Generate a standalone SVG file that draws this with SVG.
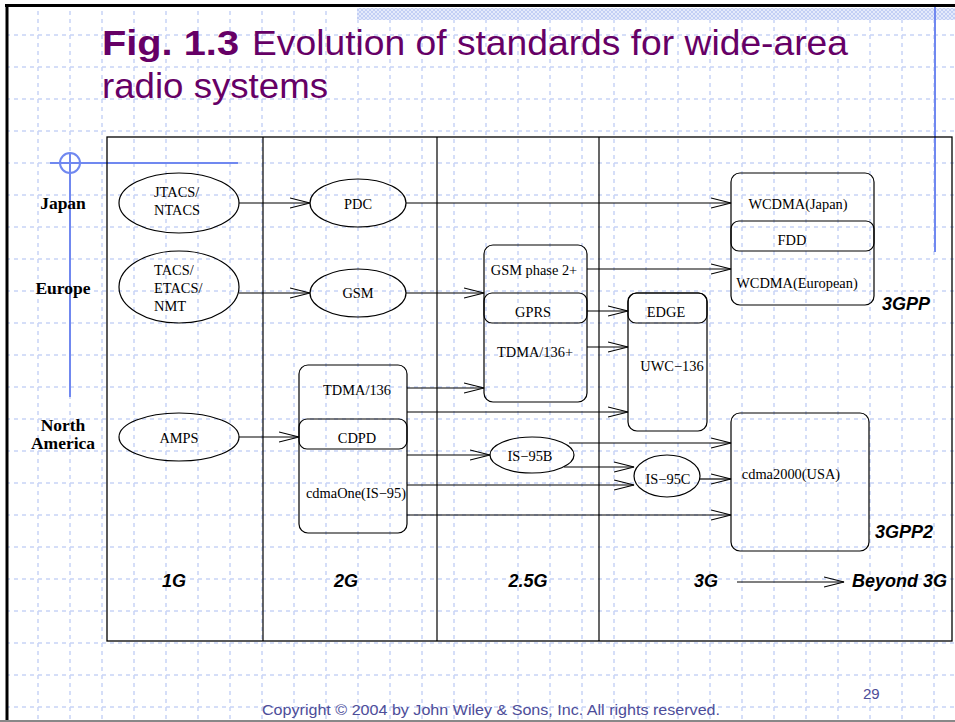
<svg xmlns="http://www.w3.org/2000/svg" width="955" height="722" viewBox="0 0 955 722">
<style>
.ln{stroke:#000;stroke-width:1.2;fill:none}
.nd{stroke:#000;stroke-width:1.2;fill:none}
.t{font-family:"Liberation Serif","Times New Roman",serif;font-size:14.4px;fill:#000}
.c{text-anchor:middle}
.row{font-family:"Liberation Serif","Times New Roman",serif;font-size:17.5px;font-weight:bold;fill:#000;text-anchor:middle}
.gen{font-family:"Liberation Sans",Arial,sans-serif;font-size:18px;font-weight:bold;font-style:italic;fill:#000}
.title{font-family:"Liberation Sans",Arial,sans-serif;font-size:35px;fill:#660066}
.foot{font-family:"Liberation Sans",Arial,sans-serif;font-size:15px;fill:#4d4d99}
.blue{stroke:#7088f0;stroke-width:2;fill:none}
</style>
<defs>
<pattern id="grid" patternUnits="userSpaceOnUse" x="22" y="19" width="32" height="32">
<line x1="16" y1="0" x2="16" y2="32" stroke="#c8d3f6" stroke-width="1.5" stroke-dasharray="4 4"/>
<line x1="0" y1="16" x2="32" y2="16" stroke="#c8d3f6" stroke-width="1.5" stroke-dasharray="4 4"/>
</pattern>
<pattern id="hatch" patternUnits="userSpaceOnUse" width="4" height="4">
<rect width="4" height="4" fill="#e4eafb"/>
<path d="M0,0 L2,2 L0,4 M4,0 L2,2 L4,4" stroke="#c3cff5" stroke-width="1" fill="none"/>
</pattern>
<marker id="ah" markerUnits="userSpaceOnUse" markerWidth="24" markerHeight="14" refX="20" refY="6" orient="auto">
<path d="M0,1 L20,6 L0,11" fill="none" stroke="#000" stroke-width="1.2"/>
</marker>
</defs>
<!-- slide background -->
<rect x="0" y="0" width="955" height="722" fill="#fff"/>
<rect x="8" y="7" width="947" height="713" fill="url(#grid)"/>
<rect x="357" y="8" width="598" height="12" fill="url(#hatch)"/>
<line x1="5" y1="5.5" x2="955" y2="5.5" stroke="#000" stroke-width="3"/>
<line x1="7" y1="4" x2="7" y2="722" stroke="#000" stroke-width="3"/>
<line x1="0" y1="721" x2="955" y2="721" stroke="#888" stroke-width="2"/>
<line class="blue" x1="935" y1="7" x2="935" y2="252"/>
<line class="blue" x1="50" y1="163" x2="238" y2="163" stroke-width="1.5"/>
<circle class="blue" cx="70" cy="163" r="10" stroke-width="1.5"/>
<line class="blue" x1="70" y1="153" x2="70" y2="397"/>
<!-- title -->
<text class="title" x="102" y="55" font-weight="bold" textLength="137" lengthAdjust="spacingAndGlyphs">Fig. 1.3</text>
<text class="title" x="252" y="55" textLength="596" lengthAdjust="spacingAndGlyphs">Evolution of standards for wide-area</text>
<text class="title" x="102" y="98" textLength="226" lengthAdjust="spacingAndGlyphs">radio systems</text>
<!-- frame -->
<g id="frame">
<rect x="107" y="137" width="845" height="504" fill="none" stroke="#000" stroke-width="1.3"/>
<line class="ln" x1="263" y1="137" x2="263" y2="641"/>
<line class="ln" x1="437" y1="137" x2="437" y2="641"/>
<line class="ln" x1="599" y1="137" x2="599" y2="641"/>
</g>
<g id="row-labels">
<text class="row" x="63" y="209">Japan</text>
<text class="row" x="63" y="294">Europe</text>
<text class="row" x="63" y="431">North</text>
<text class="row" x="63" y="449">America</text>
</g>
<g id="gen-labels">
<text class="gen" x="174" y="587" text-anchor="middle">1G</text>
<text class="gen" x="346" y="587" text-anchor="middle">2G</text>
<text class="gen" x="528" y="587" text-anchor="middle">2.5G</text>
<text class="gen" x="706" y="587" text-anchor="middle">3G</text>
<text class="gen" x="852" y="587">Beyond 3G</text>
</g>
<!-- nodes -->
<g id="jtacs">
<ellipse class="nd" cx="179" cy="203" rx="60" ry="30"/>
<text class="t" x="154" y="197">JTACS/</text>
<text class="t" x="154" y="215">NTACS</text>
</g>
<g id="tacs">
<ellipse class="nd" cx="179" cy="287" rx="60" ry="36"/>
<text class="t" x="154" y="275">TACS/</text>
<text class="t" x="154" y="293">ETACS/</text>
<text class="t" x="154" y="311">NMT</text>
</g>
<g id="amps">
<ellipse class="nd" cx="179" cy="437" rx="60" ry="24"/>
<text class="t c" x="179" y="443">AMPS</text>
</g>
<g id="pdc">
<ellipse class="nd" cx="358" cy="203" rx="48" ry="24"/>
<text class="t c" x="358" y="209">PDC</text>
</g>
<g id="gsm">
<ellipse class="nd" cx="358" cy="293" rx="48" ry="24"/>
<text class="t c" x="358" y="298">GSM</text>
</g>
<g id="tdma136">
<rect class="nd" x="299" y="365" width="108" height="168" rx="9"/>
<rect class="nd" x="299" y="419" width="108" height="30" rx="8"/>
<text class="t c" x="357" y="395">TDMA/136</text>
<text class="t c" x="357" y="443">CDPD</text>
<text class="t c" x="356" y="498">cdmaOne(IS−95)</text>
</g>
<g id="gsm2plus">
<rect class="nd" x="484" y="245" width="103" height="157" rx="9"/>
<rect class="nd" x="484" y="293" width="103" height="30" rx="8"/>
<text class="t c" x="534" y="275">GSM phase 2+</text>
<text class="t c" x="533" y="317">GPRS</text>
<text class="t c" x="535" y="357">TDMA/136+</text>
</g>
<g id="edge">
<rect class="nd" x="628" y="293" width="79" height="138" rx="9"/>
<rect class="nd" x="628" y="293" width="79" height="30" rx="8"/>
<text class="t c" x="666" y="317">EDGE</text>
<text class="t c" x="672" y="371">UWC−136</text>
</g>
<g id="is95b">
<ellipse class="nd" cx="532" cy="455" rx="42" ry="18"/>
<text class="t c" x="530" y="461">IS−95B</text>
</g>
<g id="is95c">
<ellipse class="nd" cx="667" cy="476" rx="33" ry="21"/>
<text class="t c" x="668" y="484">IS−95C</text>
</g>
<g id="wcdma">
<rect class="nd" x="731" y="173" width="143" height="132" rx="9"/>
<rect class="nd" x="731" y="221" width="143" height="30" rx="8"/>
<text class="t c" x="798" y="209">WCDMA(Japan)</text>
<text class="t c" x="792" y="245">FDD</text>
<text class="t c" x="797" y="288">WCDMA(European)</text>
<text class="gen" x="882" y="310">3GPP</text>
</g>
<g id="cdma2000">
<rect class="nd" x="731" y="413" width="138" height="138" rx="9"/>
<text class="t c" x="791" y="479">cdma2000(USA)</text>
<text class="gen" x="875" y="538">3GPP2</text>
</g>
<!-- connectors -->
<g id="connectors" class="ln" marker-end="url(#ah)">
<line x1="239" y1="203" x2="310" y2="203"/>
<line x1="239" y1="293" x2="310" y2="293"/>
<line x1="239" y1="437" x2="299" y2="437"/>
<line x1="406" y1="203" x2="731" y2="203"/>
<line x1="406" y1="293" x2="484" y2="293"/>
<line x1="587" y1="269" x2="731" y2="269"/>
<line x1="587" y1="311" x2="628" y2="311"/>
<line x1="587" y1="347" x2="628" y2="347"/>
<line x1="407" y1="388" x2="484" y2="388"/>
<line x1="407" y1="412" x2="628" y2="412"/>
<line x1="407" y1="455" x2="490" y2="455"/>
<line x1="407" y1="485" x2="634" y2="485"/>
<line x1="407" y1="515" x2="731" y2="515"/>
<line x1="569" y1="443" x2="731" y2="443"/>
<line x1="564" y1="467" x2="634" y2="467"/>
<line x1="700" y1="479" x2="731" y2="479"/>
<line x1="737" y1="582" x2="844" y2="582"/>
</g>
<!-- footer -->
<text class="foot" x="262" y="715" textLength="458" lengthAdjust="spacingAndGlyphs">Copyright © 2004 by John Wiley &amp; Sons, Inc. All rights reserved.</text>
<text class="foot" x="863" y="699" font-size="16">29</text>
</svg>
